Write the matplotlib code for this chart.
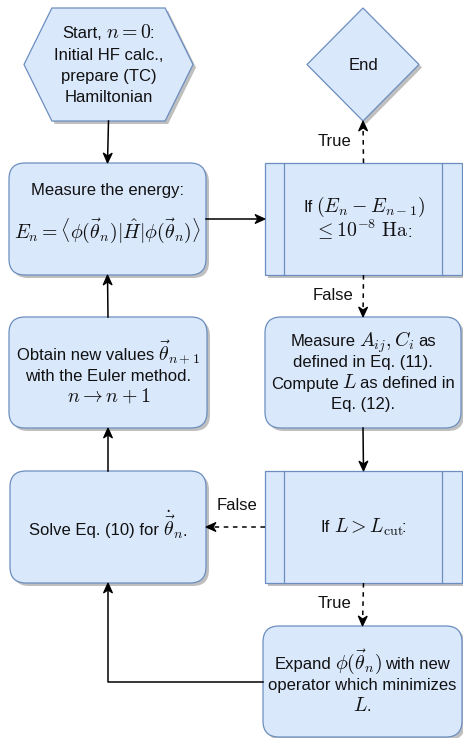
import numpy as np
import matplotlib
matplotlib.use('Agg')
import matplotlib.pyplot as plt
from matplotlib.patches import Polygon, FancyBboxPatch, Rectangle

plt.rcParams['font.family'] = ['Liberation Sans', 'DejaVu Sans']
plt.rcParams['mathtext.fontset'] = 'cm'

# nodes of the flowchart
node_ids = ['start', 'measure', 'obtain', 'solve', 'end', 'check_e', 'measure_a', 'check_l', 'expand']
node_kinds = ['hexagon', 'round', 'round', 'round', 'diamond', 'process', 'round', 'process', 'round']
node_texts = [
    'Start, $n=0$:\nInitial HF calc.,\nprepare (TC)\nHamiltonian',
    'Measure the energy:\n\n$E_n = \\langle\\phi(\\vec{\\theta}_n)|\\hat{H}|\\phi(\\vec{\\theta}_n)\\rangle$',
    'Obtain new values $\\vec{\\theta}_{n+1}$\nwith the Euler method.\n$n \\rightarrow n+1$',
    'Solve Eq. (10) for $\\dot{\\vec{\\theta}}_n$.',
    'End',
    'If $(E_n - E_{n-1})$\n$\\leq 10^{-8}\\ \\mathrm{Ha}$:',
    'Measure $A_{ij}, C_i$ as\ndefined in Eq. (11).\nCompute $L$ as defined in\nEq. (12).',
    'If $L > L_{\\mathrm{cut}}$:',
    'Expand $\\phi(\\vec{\\theta}_n)$ with new\noperator which minimizes\n$L$.',
]

# edges: source, target, dashed, label
edge_from = ['start', 'measure', 'check_e', 'check_e', 'measure_a', 'check_l', 'check_l', 'expand', 'solve', 'obtain']
edge_to = ['measure', 'check_e', 'end', 'measure_a', 'check_l', 'solve', 'expand', 'solve', 'obtain', 'measure']
edge_dashed = [False, False, True, True, False, True, True, False, False, False]
edge_labels = ['', '', 'True', 'False', '', 'False', 'True', '', '', '']

# layout in pixels (x0, y0, x1, y1), y grows downward
layout = {
    'start': (24, 8, 193, 121),
    'measure': (9, 163, 206, 275),
    'obtain': (9, 317, 207, 428),
    'solve': (10, 471, 206, 583),
    'end': (307, 8, 419, 121),
    'check_e': (265, 163, 462, 275),
    'measure_a': (265, 317, 461, 428),
    'check_l': (265, 471, 462, 583),
    'expand': (263, 626, 462, 737),
}
text_shift = {'measure': -8, 'obtain': 3, 'solve': 3, 'expand': 3}
line_gap = {'check_e': 24.5}
# anchor sides for each edge
edge_sides = [('bottom', 'top'), ('right', 'left'), ('top', 'bottom'), ('bottom', 'top'),
              ('bottom', 'top'), ('left', 'right'), ('bottom', 'top'), ('left', 'bottom'),
              ('top', 'bottom'), ('top', 'bottom')]
label_pos = {2: (334, 142), 3: (333, 295), 5: (237, 506), 6: (334, 603)}

FILL = '#dae8fc'
EDGE = '#6c8ebf'
SHADOW = '#bfbfbf'
TXT = 12.0
MATH = 14.3
LINE = 21

fig = plt.figure(figsize=(4.63, 7.38), dpi=100)
ax = fig.add_axes([0, 0, 1, 1])
ax.set_xlim(0, 463)
ax.set_ylim(738, 0)
ax.axis('off')
renderer = fig.canvas.get_renderer()


def width_of(t):
    return t.get_window_extent(renderer).width


probe1 = ax.text(0, 0, 'a a', fontsize=TXT)
probe2 = ax.text(0, 0, 'aa', fontsize=TXT)
SPACE = width_of(probe1) - width_of(probe2)
probe1.remove()
probe2.remove()


def rich_line(xc, yb, line):
    # mix plain text and larger math, centred on xc, baseline at yb
    items = []
    for j, part in enumerate(line.split('$')):
        if part == '':
            continue
        if j % 2:
            items.append(('$' + part + '$', MATH, -0.2, -0.3))
        else:
            items.append((part.strip(), TXT, part.startswith(' '), part.endswith(' ')))
    objs = []
    total = 0
    for s, fs, lead, trail in items:
        t = ax.text(0, yb, s, fontsize=fs, va='baseline', ha='left', color='#111111', zorder=4)
        w = width_of(t)
        objs.append((t, lead * SPACE, w, trail * SPACE))
        total += lead * SPACE + w + trail * SPACE
    x = xc - total / 2
    for t, l, w, r in objs:
        x += l
        t.set_x(x)
        x += w + r


def shape_patches(kind, box, dx=0, dy=0, **kw):
    x0, y0, x1, y1 = box
    x0 += dx; x1 += dx; y0 += dy; y1 += dy
    cx, cy = (x0 + x1) / 2, (y0 + y1) / 2
    if kind == 'hexagon':
        ins = (x1 - x0) * 0.165
        pts = [(x0, cy), (x0 + ins, y0), (x1 - ins, y0), (x1, cy), (x1 - ins, y1), (x0 + ins, y1)]
        return [Polygon(pts, closed=True, **kw)]
    if kind == 'diamond':
        pts = [(cx, y0), (x1, cy), (cx, y1), (x0, cy)]
        return [Polygon(pts, closed=True, **kw)]
    if kind == 'round':
        return [FancyBboxPatch((x0, y0), x1 - x0, y1 - y0,
                               boxstyle='round,pad=0,rounding_size=16', **kw)]
    return [Rectangle((x0, y0), x1 - x0, y1 - y0, **kw)]


for nid, kind, text in zip(node_ids, node_kinds, node_texts):
    box = layout[nid]
    for p in shape_patches(kind, box, 3, 3, facecolor=SHADOW, edgecolor='none', zorder=1):
        ax.add_patch(p)
    for p in shape_patches(kind, box, facecolor=FILL, edgecolor=EDGE, linewidth=0.9, zorder=2):
        ax.add_patch(p)
    x0, y0, x1, y1 = box
    if kind == 'process':
        for xx in (x0 + 19, x1 - 20):
            ax.plot([xx, xx], [y0, y1], color=EDGE, lw=0.9, zorder=3)
    lines = text.split('\n')
    cy = (y0 + y1) / 2 + text_shift.get(nid, 0)
    gap = line_gap.get(nid, LINE)
    for k, line in enumerate(lines):
        yb = cy + (k - (len(lines) - 1) / 2) * gap + 5.5
        if line:
            rich_line((x0 + x1) / 2, yb, line)


def anchor(nid, side):
    x0, y0, x1, y1 = layout[nid]
    cx, cy = (x0 + x1) / 2, (y0 + y1) / 2
    return {'top': (cx, y0), 'bottom': (cx, y1), 'left': (x0, cy), 'right': (x1, cy)}[side]


def arrow_head(tip, d):
    n = np.array([-d[1], d[0]])
    tip = np.array(tip, float)
    back = tip - d * 10
    pts = [tip, back + n * 4.5, tip - d * 7, back - n * 4.5]
    ax.add_patch(Polygon(pts, closed=True, facecolor='black', edgecolor='black',
                         linewidth=0.8, zorder=6))


for i, (a, b) in enumerate(zip(edge_from, edge_to)):
    sa, sb = edge_sides[i]
    p0 = anchor(a, sa)
    p1 = anchor(b, sb)
    if sa in ('left', 'right') and sb in ('top', 'bottom'):
        pts = [p0, (p1[0], p0[1]), p1]
    elif sa in ('left', 'right'):
        pts = [p0, (p1[0], p0[1])]
    else:
        pts = [p0, p1]
    xs = [p[0] for p in pts]
    ys = [p[1] for p in pts]
    last = np.array(pts[-1], float)
    d = last - np.array(pts[-2], float)
    d /= np.hypot(*d)
    xs[-1], ys[-1] = last - d * 7
    ls = (0, (3, 3)) if edge_dashed[i] else '-'
    ax.plot(xs, ys, color='black', lw=1.1, linestyle=ls, zorder=5)
    arrow_head(last, d)
    if edge_labels[i]:
        lx, ly = label_pos[i]
        ax.text(lx, ly, edge_labels[i], ha='center', va='center', fontsize=TXT,
                color='#111111', zorder=7,
                bbox=dict(facecolor='white', edgecolor='none', pad=0.5))

fig.savefig('out.png', dpi=100, facecolor='white')
